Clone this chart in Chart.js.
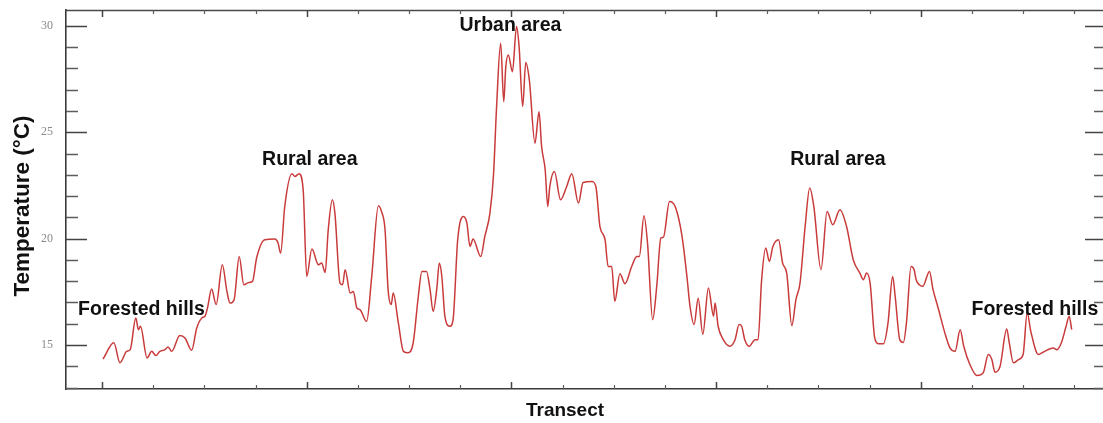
<!DOCTYPE html>
<html>
<head>
<meta charset="utf-8">
<script src="https://cdn.jsdelivr.net/npm/chart.js@4.4.1/dist/chart.umd.min.js"></script>
<style>
  html, body { margin: 0; padding: 0; background: #fff; overflow: hidden; }
  #wrap { width: 1112px; height: 423px; }
</style>
</head>
<body>
<div id="wrap"><canvas id="chart" width="1112" height="423"></canvas></div>
<script>
// Position along the transect (one minor x tick = 10 units)
const distance = [
  0.2, 2.3, 3.5, 4.8, 5.5, 6.6, 7.1, 7.5, 8.8, 9.7,
  10.5, 11.3, 12.3, 12.9, 13.6, 15.2, 16.2, 17.5, 18.5, 19.5,
  20.1, 20.6, 21.4, 22.3, 23.5, 24.4, 25.0, 25.8, 26.8, 27.7,
  28.7, 29.4, 30.2, 31.8, 33.8, 34.4, 34.9, 35.7, 37.1, 37.7,
  38.5, 39.3, 40.0, 41.0, 42.3, 42.9, 43.6, 44.2, 45.0, 45.5,
  46.5, 47.0, 47.5, 48.5, 49.1, 49.8, 50.4, 51.7, 52.7, 54.0,
  54.6, 55.3, 55.9, 56.5, 56.9, 57.9, 58.9, 59.8, 60.8, 61.8,
  62.5, 63.4, 64.1, 64.7, 65.4, 65.9, 66.4, 67.0, 68.0, 68.6,
  69.5, 70.6, 71.3, 71.9, 72.5, 74.0, 74.8, 75.8, 76.5, 77.1,
  77.9, 78.5, 78.9, 79.4, 80.2, 81.0, 81.5, 82.2, 82.8, 83.5,
  84.6, 85.4, 85.9, 86.6, 87.1, 87.5, 88.4, 89.6, 90.8, 91.8,
  93.1, 94.0, 95.7, 96.5, 97.3, 98.3, 98.9, 99.6, 100.2, 101.2,
  102.2, 103.5, 104.5, 105.0, 105.9, 106.6, 107.6, 108.4, 109.2, 109.7,
  110.9, 112.0, 113.3, 114.3, 114.9, 115.7, 116.5, 117.4, 118.5, 119.5,
  119.8, 120.4, 121.4, 122.7, 123.7, 124.5, 125.0, 125.6, 126.5, 127.6,
  128.2, 128.9, 129.7, 130.4, 131.1, 132.2, 133.0, 133.8, 134.8, 135.6,
  136.4, 137.4, 138.3, 139.1, 140.5, 141.7, 142.8, 144.2, 145.5, 146.8,
  148.1, 148.8, 149.4, 150.1, 151.0, 151.7, 152.7, 153.6, 154.5, 155.0,
  155.9, 156.6, 157.2, 158.1, 158.7, 159.1, 159.7, 160.4, 161.7, 162.4,
  163.4, 164.7, 165.7, 166.7, 167.7, 168.4, 169.6, 171.0, 172.2, 173.2,
  173.9, 174.5, 175.5, 176.8, 177.3, 178.1, 179.1, 180.0, 180.8, 181.5,
  183.0, 183.9, 185.9, 186.6, 187.5, 188.4, 189.0, 189.5
];

// Temperature (°C) at each transect position
const temperature = [
  14.34, 15.10, 14.16, 14.70, 14.78, 16.27, 15.72, 15.88, 14.39, 14.70,
  14.50, 14.70, 14.78, 14.91, 14.70, 15.44, 15.33, 14.75, 15.80, 16.27,
  16.35, 16.74, 17.63, 16.90, 18.77, 17.52, 16.97, 17.13, 19.16, 17.83,
  17.94, 17.99, 19.09, 19.95, 19.98, 19.79, 19.32, 21.51, 23.05, 22.92,
  23.05, 22.30, 18.22, 19.51, 18.77, 18.85, 18.41, 20.42, 21.83, 21.20,
  17.91, 17.83, 18.54, 17.44, 17.52, 16.74, 16.66, 16.11, 18.22, 21.55,
  21.28, 20.42, 17.60, 16.90, 17.44, 16.04, 14.70, 14.63, 15.10, 17.28,
  18.46, 18.46, 17.60, 16.58, 17.60, 18.85, 18.22, 16.35, 15.88, 16.19,
  19.95, 21.04, 20.73, 19.63, 19.98, 19.16, 20.10, 21.20, 23.00, 26.20,
  29.19, 26.44, 28.09, 28.64, 27.85, 29.97, 29.03, 26.21, 28.28, 27.46,
  24.49, 25.97, 24.33, 23.24, 21.51, 22.45, 23.16, 21.83, 22.45, 23.05,
  21.67, 22.64, 22.69, 22.45, 20.57, 19.95, 18.69, 18.69, 17.05, 18.35,
  17.88, 18.69, 19.16, 19.16, 21.08, 19.79, 16.19, 17.76, 20.03, 20.07,
  21.75, 21.51, 20.18, 18.22, 16.82, 15.96, 17.20, 15.50, 17.68, 16.35,
  16.97, 15.88, 15.25, 14.94, 15.25, 15.96, 15.88, 15.25, 14.94, 15.25,
  15.25, 18.07, 19.56, 18.93, 19.63, 19.95, 18.85, 18.38, 15.91, 17.13,
  17.91, 20.57, 22.38, 21.51, 18.54, 21.28, 20.65, 21.36, 20.57, 19.01,
  18.38, 18.07, 18.38, 17.91, 15.33, 15.06, 15.06, 16.04, 18.22, 17.28,
  15.25, 15.12, 16.04, 18.69, 18.54, 18.07, 17.83, 17.76, 18.46, 17.60,
  16.74, 15.57, 14.86, 14.70, 15.72, 14.94, 14.08, 13.56, 13.69, 14.55,
  14.31, 13.72, 14.00, 15.75, 15.10, 14.16, 14.31, 14.55, 16.51, 15.64,
  14.55, 14.66, 14.86, 14.78, 15.12, 15.88, 16.35, 15.72
];

// Labelled y ticks
const yTickLabels = [15, 20, 25, 30];

// Land-cover zones along the transect
const zoneNames = ['Forested hills', 'Rural area', 'Urban area', 'Rural area', 'Forested hills'];
const zoneX = [7.7, 40.6, 79.8, 143.8, 182.3];
const zoneY = [16.43, 23.47, 29.77, 23.47, 16.43];

const xTitle = 'Transect';
const yTitle = 'Temperature (°C)';

const points = distance.map((d, i) => ({ x: d, y: temperature[i] }));

const BOLD = '"Liberation Sans", Arial, sans-serif';

// Frame, inward tick marks, axis titles and zone labels
const decorations = {
  id: 'decorations',
  afterDraw(chart) {
    const { ctx, chartArea: a, scales: { x, y } } = chart;
    ctx.save();

    // top and right edges of the frame
    ctx.strokeStyle = '#4a4a4a';
    ctx.lineWidth = 1.4;
    ctx.beginPath();
    ctx.moveTo(a.left, a.top + 0.5);
    ctx.lineTo(a.right, a.top + 0.5);
    ctx.lineTo(a.right, a.bottom);
    ctx.stroke();

    // y tick marks on both sides, every 1 °C, long ones every 5 °C
    for (let v = Math.ceil(y.min); v <= y.max; v++) {
      const py = Math.round(y.getPixelForValue(v)) + 0.5;
      const major = v % 5 === 0;
      const len = major ? 21 : 12;
      ctx.lineWidth = major ? 1.6 : 1.3;
      ctx.strokeStyle = major ? '#444' : '#5c5c5c';
      ctx.beginPath();
      ctx.moveTo(a.left, py); ctx.lineTo(a.left + len, py);
      ctx.moveTo(a.right, py); ctx.lineTo(a.right - len, py);
      ctx.stroke();
    }

    // x tick marks on bottom and top edges
    for (let v = 0; v <= x.max; v += 10) {
      const px = Math.round(x.getPixelForValue(v)) + 0.5;
      const major = v % 40 === 0;
      const len = major ? 7 : 4;
      ctx.lineWidth = major ? 1.5 : 1.2;
      ctx.strokeStyle = major ? '#444' : '#5c5c5c';
      ctx.beginPath();
      ctx.moveTo(px, a.bottom); ctx.lineTo(px, a.bottom - len);
      ctx.moveTo(px, a.top); ctx.lineTo(px, a.top + len);
      ctx.stroke();
    }

    // axis titles
    ctx.fillStyle = '#111';
    ctx.textAlign = 'center';
    ctx.textBaseline = 'middle';
    ctx.font = 'bold 19px ' + BOLD;
    ctx.fillText(xTitle, 565, 411);

    ctx.save();
    ctx.translate(23, 206);
    ctx.rotate(-Math.PI / 2);
    ctx.font = 'bold 22.5px ' + BOLD;
    ctx.fillText(yTitle, 0, 0);
    ctx.restore();

    // zone labels
    ctx.font = 'bold 19.5px ' + BOLD;
    ctx.textBaseline = 'alphabetic';
    zoneNames.forEach((name, i) => {
      ctx.fillText(name, x.getPixelForValue(zoneX[i]), y.getPixelForValue(zoneY[i]));
    });

    ctx.restore();
  }
};

new Chart(document.getElementById('chart'), {
  type: 'line',
  data: {
    datasets: [{
      data: points,
      borderColor: '#c93b3b',
      borderWidth: 1.5,
      pointRadius: 0,
      cubicInterpolationMode: 'monotone',
      fill: false
    }]
  },
  options: {
    responsive: false,
    animation: false,
    devicePixelRatio: 1,
    layout: { padding: { top: 10, right: 6, left: 0, bottom: 0 } },
    plugins: { legend: { display: false }, tooltip: { enabled: false } },
    scales: {
      x: {
        type: 'linear',
        min: -7.05,
        max: 196.2,
        grid: { display: false },
        border: { display: true, color: '#3a3a3a', width: 1.6 },
        ticks: { display: false },
        afterFit: s => {
          s.height = 34;
          s.paddingLeft = 0; s.paddingRight = 0;
        }
      },
      y: {
        type: 'linear',
        min: 12.93,
        max: 30.75,
        grid: { display: false, drawTicks: false },
        border: { display: true, color: '#3a3a3a', width: 1.6 },
        afterBuildTicks: s => { s.ticks = yTickLabels.map(v => ({ value: v })); },
        ticks: {
          padding: 13,
          color: '#8a8a8a',
          font: { family: '"Liberation Serif", "Times New Roman", serif', size: 12 }
        },
        afterFit: s => {
          s.width = 66;
          s.paddingTop = 0; s.paddingBottom = 0;
        }
      }
    }
  },
  plugins: [decorations]
});
</script>
</body>
</html>
